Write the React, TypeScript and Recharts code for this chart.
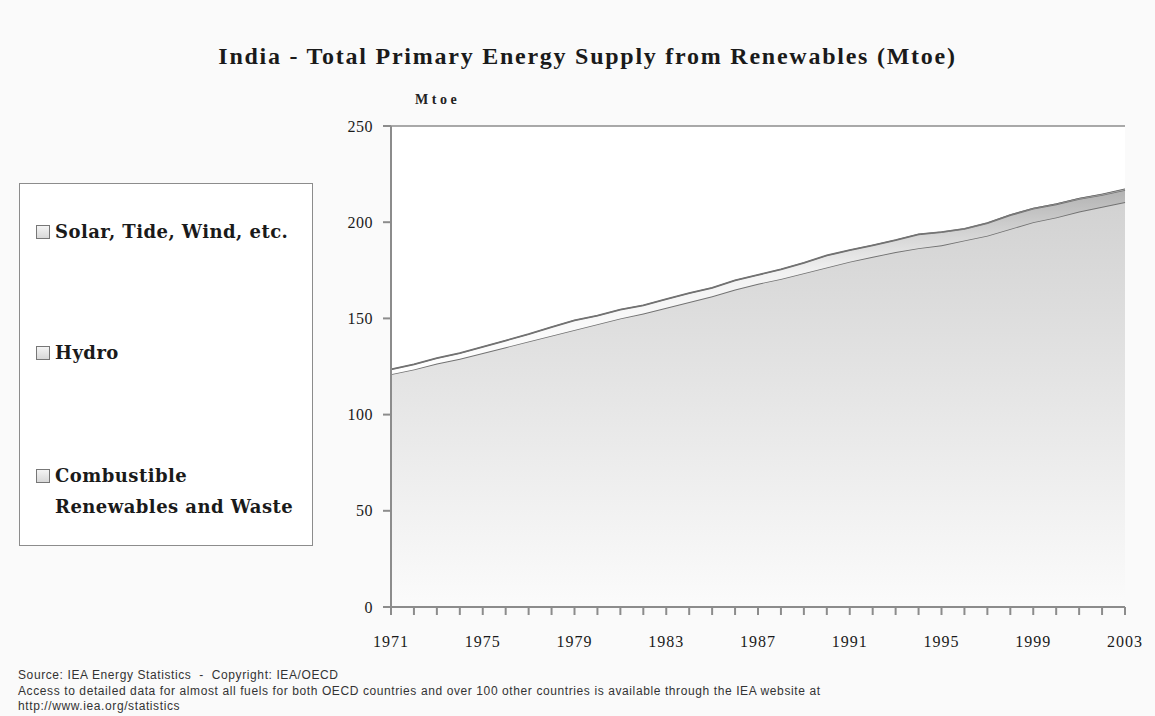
import React from 'react';
import { AreaChart, Area, XAxis, YAxis, CartesianGrid } from 'recharts';

const years = [
    1971, 1972, 1973, 1974, 1975, 1976, 1977, 1978, 1979, 1980, 1981,
    1982, 1983, 1984, 1985, 1986, 1987, 1988, 1989, 1990, 1991, 1992,
    1993, 1994, 1995, 1996, 1997, 1998, 1999, 2000, 2001, 2002, 2003,
];
const combustible = [
    121, 123.5, 126.5, 129, 132, 135, 138, 141, 144, 147, 150,
    152.5, 155.5, 158.5, 161.5, 165, 168, 170.5, 173.5, 176.5, 179.5, 182,
    184.5, 186.5, 188, 190.5, 193, 196.5, 200, 202.5, 205.5, 208, 210.5,
];
const hydro = [
    2.5, 2.6, 2.8, 2.9, 3.2, 3.5, 3.8, 4.5, 5.0, 4.4, 4.6,
    4.3, 4.5, 4.6, 4.4, 4.8, 4.6, 5.0, 5.4, 6.2, 6.0, 6.0,
    6.2, 7.2, 6.8, 6.0, 6.5, 7.2, 7.0, 6.8, 6.6, 6.2, 6.3,
];
const solar = [
    0, 0, 0, 0, 0, 0, 0, 0, 0, 0, 0,
    0, 0, 0, 0, 0, 0, 0, 0, 0, 0.01, 0.02,
    0.03, 0.05, 0.08, 0.1, 0.12, 0.15, 0.2, 0.25, 0.3, 0.4, 0.5,
];
const yTicks = [0, 50, 100, 150, 200, 250];
const labelYears = [1971, 1975, 1979, 1983, 1987, 1991, 1995, 1999, 2003];

const seriesNames = ['Solar, Tide, Wind, etc.', 'Hydro', 'Combustible Renewables and Waste'];

const data = years.map((y, i) => ({
    year: y,
    combustible: combustible[i],
    hydro: hydro[i],
    solar: solar[i],
}));

const serif = '"Liberation Serif", "DejaVu Serif", serif';
const wideSerif = '"DejaVu Serif", "Liberation Serif", serif';
const sans = '"Liberation Sans", Arial, sans-serif';

const LegendSwatch: React.FC = () => (
    <span
        style={{
            display: 'inline-block',
            width: 12,
            height: 12,
            border: '1px solid #777',
            background: 'linear-gradient(#f4f4f4, #d8d8d8)',
            marginRight: 5,
            verticalAlign: '-1px',
        }}
    />
);

export default function App() {
    return (
        <div style={{ position: 'absolute', left: 0, top: 0, width: 1155, height: 716, background: '#fafafa', fontFamily: serif, overflow: 'hidden' }}>
            <div style={{ position: 'absolute', left: 0, top: 43, width: 1175, textAlign: 'center', fontSize: 24, fontWeight: 'bold', color: '#1a1a1a', letterSpacing: 1.75 }}>
                India - Total Primary Energy Supply from Renewables (Mtoe)
            </div>
            <div style={{ position: 'absolute', left: 415, top: 92, fontSize: 14, fontWeight: 'bold', color: '#222', letterSpacing: 3.5 }}>
                Mtoe
            </div>

            <AreaChart width={1155} height={716} data={data} margin={{ top: 126, right: 30, left: 331, bottom: 69 }}>
                <defs>
                    <linearGradient id="combGrad" x1="0" y1="0" x2="0" y2="1">
                        <stop offset="0%" stopColor="#d2d2d2" />
                        <stop offset="100%" stopColor="#fbfbfb" />
                    </linearGradient>
                    <linearGradient id="hydroGrad" x1="0" y1="0" x2="0" y2="1">
                        <stop offset="0%" stopColor="#b2b2b2" />
                        <stop offset="45%" stopColor="#f2f2f2" />
                        <stop offset="100%" stopColor="#ffffff" />
                    </linearGradient>
                    <linearGradient id="solarGrad" x1="0" y1="0" x2="0" y2="1">
                        <stop offset="0%" stopColor="#c0c0c0" />
                        <stop offset="100%" stopColor="#eeeeee" />
                    </linearGradient>
                </defs>
                <CartesianGrid vertical={false} stroke="#8c8c8c" strokeWidth={1.5} fill="#ffffff" />
                <XAxis
                    dataKey="year"
                    type="number"
                    domain={[1971, 2003]}
                    ticks={years}
                    interval={0}
                    tickFormatter={(v: number) => (labelYears.includes(v) ? String(v) : '')}
                    stroke="#8c8c8c"
                    strokeWidth={2}
                    tickSize={8}
                    tickMargin={21}
                    height={40}
                    tick={{ fill: '#1a1a1a', fontSize: 16, fontFamily: serif, letterSpacing: 1 }}
                />
                <YAxis
                    yAxisId="left"
                    domain={[0, 250]}
                    ticks={yTicks}
                    interval={0}
                    stroke="#8c8c8c"
                    strokeWidth={2}
                    tickSize={8}
                    tickMargin={10}
                    width={60}
                    tick={{ fill: '#1a1a1a', fontSize: 16, fontFamily: serif, letterSpacing: 0.5 }}
                />
                <YAxis
                    yAxisId="right"
                    orientation="right"
                    domain={[0, 250]}
                    tick={false}
                    tickLine={false}
                    stroke="#8c8c8c"
                    strokeWidth={2}
                    width={0}
                />
                <Area
                    yAxisId="left"
                    type="linear"
                    dataKey="combustible"
                    name={seriesNames[2]}
                    stackId="a"
                    stroke="#727272"
                    strokeWidth={1.8}
                    fill="url(#combGrad)"
                    fillOpacity={1}
                    isAnimationActive={false}
                />
                <Area
                    yAxisId="left"
                    type="linear"
                    dataKey="hydro"
                    name={seriesNames[1]}
                    stackId="a"
                    stroke="#727272"
                    strokeWidth={1.8}
                    fill="url(#hydroGrad)"
                    fillOpacity={1}
                    isAnimationActive={false}
                />
                <Area
                    yAxisId="left"
                    type="linear"
                    dataKey="solar"
                    name={seriesNames[0]}
                    stackId="a"
                    stroke="#727272"
                    strokeWidth={1}
                    fill="url(#solarGrad)"
                    fillOpacity={1}
                    isAnimationActive={false}
                />
            </AreaChart>

            <div style={{ position: 'absolute', left: 19, top: 183, width: 292, height: 361, border: '1.5px solid #8c8c8c', background: '#ffffff', fontFamily: wideSerif, fontSize: 18, fontWeight: 'bold', color: '#1a1a1a', letterSpacing: 0.45 }}>
                <div style={{ position: 'absolute', left: 16, top: 37 }}>
                    <LegendSwatch />{seriesNames[0]}
                </div>
                <div style={{ position: 'absolute', left: 16, top: 158 }}>
                    <LegendSwatch />{seriesNames[1]}
                </div>
                <div style={{ position: 'absolute', left: 16, top: 276, lineHeight: '31px' }}>
                    <LegendSwatch />Combustible
                    <br />
                    <span style={{ marginLeft: 19 }}>Renewables and Waste</span>
                </div>
            </div>

            <div style={{ position: 'absolute', left: 18, top: 668, fontFamily: sans, fontSize: 12, color: '#333', lineHeight: '15.5px', letterSpacing: 0.6, whiteSpace: 'nowrap' }}>
                <div>Source: IEA Energy Statistics&nbsp; - &nbsp;Copyright: IEA/OECD</div>
                <div>Access to detailed data for almost all fuels for both OECD countries and over 100 other countries is available through the IEA website at</div>
                <div>http://www.iea.org/statistics</div>
            </div>
        </div>
    );
}
